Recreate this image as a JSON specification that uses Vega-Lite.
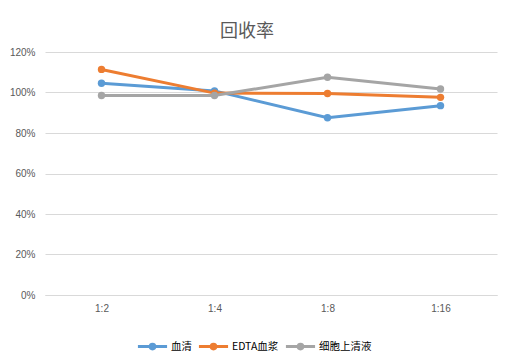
{
  "$schema": "https://vega.github.io/schema/vega-lite/v6.json",
  "width": 452,
  "height": 243,
  "autosize": "none",
  "padding": {"left": 45, "top": 52, "right": 16, "bottom": 63},
  "background": "white",
  "title": {"text": "回收率", "font": "Noto Sans CJK SC", "fontSize": 18, "fontWeight": "normal", "color": "#595959", "offset": 6, "anchor": "middle", "dx": -24},
  "data": {"values": [
    {"ratio": "1:2", "series": "血清", "value": 1.046},
    {"ratio": "1:4", "series": "血清", "value": 1.008},
    {"ratio": "1:8", "series": "血清", "value": 0.875},
    {"ratio": "1:16", "series": "血清", "value": 0.935},
    {"ratio": "1:2", "series": "EDTA血浆", "value": 1.114},
    {"ratio": "1:4", "series": "EDTA血浆", "value": 0.997},
    {"ratio": "1:8", "series": "EDTA血浆", "value": 0.995},
    {"ratio": "1:16", "series": "EDTA血浆", "value": 0.976},
    {"ratio": "1:2", "series": "细胞上清液", "value": 0.985},
    {"ratio": "1:4", "series": "细胞上清液", "value": 0.985},
    {"ratio": "1:8", "series": "细胞上清液", "value": 1.075},
    {"ratio": "1:16", "series": "细胞上清液", "value": 1.017}
  ]},
  "encoding": {
    "x": {"field": "ratio", "type": "ordinal", "sort": ["1:2", "1:4", "1:8", "1:16"],
      "scale": {"paddingInner": 0, "paddingOuter": 0.5},
      "axis": {"title": null, "labelAngle": 0, "ticks": false, "domainColor": "#D9D9D9", "labelColor": "#595959", "labelFont": "Liberation Sans", "labelFontSize": 10, "labelPadding": 8}},
    "y": {"field": "value", "type": "quantitative",
      "scale": {"domain": [0, 1.2]},
      "axis": {"title": null, "format": ".0%", "values": [0, 0.2, 0.4, 0.6, 0.8, 1.0, 1.2], "domain": false, "ticks": false, "gridColor": "#D9D9D9", "labelColor": "#595959", "labelFont": "Liberation Sans", "labelFontSize": 10, "labelPadding": 10}},
    "color": {"field": "series", "type": "nominal", "sort": ["血清", "EDTA血浆", "细胞上清液"],
      "scale": {"domain": ["血清", "EDTA血浆", "细胞上清液"], "range": ["#5B9BD5", "#ED7D31", "#A5A5A5"]},
      "legend": {"title": null, "orient": "none", "legendX": 91, "legendY": 278, "direction": "horizontal", "labelFont": "Noto Sans CJK SC", "labelFontSize": 10.5, "labelColor": "#000000", "symbolType": "M-1,0H1M-0.16,0a0.16,0.16 0 1,0 0.32,0a0.16,0.16 0 1,0 -0.32,0", "symbolSize": 850, "symbolStrokeWidth": 3, "columnPadding": 0, "labelOffset": 2}}
  },
  "layer": [
    {"mark": {"type": "line", "strokeWidth": 3}},
    {"mark": {"type": "point", "filled": true, "size": 55, "opacity": 1}}
  ],
  "config": {"view": {"stroke": null}}
}
